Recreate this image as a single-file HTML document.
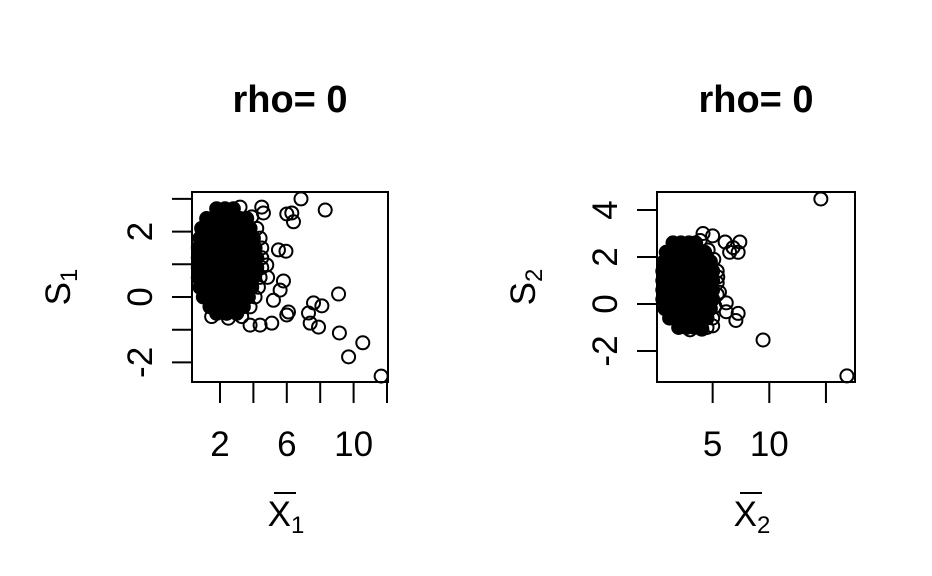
<!DOCTYPE html>
<html><head><meta charset="utf-8"><style>
html,body{margin:0;padding:0;background:#fff}
svg{display:block;font-family:"Liberation Sans",Arial,sans-serif}
</style></head><body>
<svg id="c" width="932" height="576" viewBox="0 0 932 576"></svg>
<script>
// ---- Panel 1 data ----
const p1RowY = [2.7,2.4,2.1,1.8,1.5,1.2,0.9,0.6,0.3,0.0,-0.3,-0.5];
const p1RowX = [
 [1.8,2.3,2.8],
 [1.2,1.7,2.2,2.7,3.2,3.6],
 [0.9,1.3,1.8,2.3,2.8,3.3,3.8],
 [0.8,1.1,1.6,2.1,2.6,3.1,3.6,4.0],
 [0.7,1.0,1.5,2.0,2.5,3.0,3.5,4.1],
 [0.7,0.9,1.4,1.9,2.4,2.9,3.4,3.8,4.2],
 [0.7,0.9,1.4,1.9,2.4,2.9,3.4,3.8,4.2],
 [0.7,1.0,1.5,2.0,2.5,3.0,3.5,4.0],
 [0.8,1.1,1.6,2.1,2.6,3.1,3.5,3.9],
 [1.0,1.4,1.9,2.4,2.9,3.3,3.7],
 [1.4,1.9,2.4,2.9,3.4],
 [1.8,2.4,3.0]
];
const p1OutX = [6.85,8.3,6.0,6.3,6.4,4.6,4.5,5.5,5.95,4.8,5.8,5.6,9.1,7.6,8.1,7.3,7.4,7.9,6.0,6.1,5.1,4.4,3.8,9.15,9.7,10.55,11.65,5.2,4.85,
 3.2,3.9,4.2,4.4,4.5,4.5,4.5,4.4,4.3,4.1,3.8,3.3,2.5,1.5];
const p1OutY = [3.0,2.66,2.54,2.57,2.3,2.57,2.75,1.44,1.4,0.98,0.49,0.21,0.09,-0.18,-0.27,-0.49,-0.8,-0.92,-0.55,-0.46,-0.8,-0.86,-0.86,-1.1,-1.83,-1.4,-2.42,-0.1,0.6,
 2.75,2.45,2.1,1.8,1.5,1.2,0.9,0.6,0.3,0.0,-0.3,-0.6,-0.65,-0.6];
const p1XTicks = [2,4,6,8,10,12];
const p1XLabels = [2,6,10];
const p1YTicks = [-2,-1,0,1,2,3];
const p1YLabels = [-2,0,2];
// ---- Panel 2 data ----
const p2RowY = [2.6,2.2,1.8,1.4,1.0,0.6,0.2,-0.2,-0.6,-1.0];
const p2RowX = [
 [1.5,2.2,2.9,3.5],
 [0.9,1.5,2.2,2.9,3.6,4.3],
 [0.7,1.2,1.9,2.6,3.3,4.0,4.8],
 [0.6,1.0,1.7,2.4,3.1,3.8,4.5,5.0],
 [0.6,0.9,1.6,2.3,3.0,3.7,4.4,5.0],
 [0.6,0.9,1.6,2.3,3.0,3.7,4.4,5.0],
 [0.6,1.0,1.7,2.4,3.1,3.8,4.5,5.0],
 [0.8,1.2,1.9,2.6,3.3,4.0,4.8],
 [1.2,1.9,2.6,3.3,4.0,4.5],
 [2.0,2.7,3.4,4.0]
];
const p2OutX = [14.55,16.85,9.45,7.4,7.25,6.5,6.8,6.1,5.0,4.15,5.45,5.6,6.2,6.2,7.25,7.05,5.0,4.05,2.4,
 3.9,4.6,5.1,5.4,5.4,5.4,5.2,5.0,4.5,3.0];
const p2OutY = [4.47,-3.06,-1.53,2.64,2.2,2.2,2.4,2.64,2.9,3.0,1.15,0.5,0.05,-0.33,-0.4,-0.7,-0.93,-1.07,-0.93,
 2.7,2.3,1.9,1.4,0.9,0.4,-0.1,-0.6,-1.0,-1.1];
const p2XTicks = [5,10,15];
const p2XLabels = [5,10];
const p2YTicks = [-2,0,2,4];
const p2YLabels = [-2,0,2,4];

const NS="http://www.w3.org/2000/svg";
const svg=document.getElementById('c');
function mk(tag,attrs,parent){const e=document.createElementNS(NS,tag);for(const k in attrs)e.setAttribute(k,attrs[k]);(parent||svg).appendChild(e);return e;}

function panel(cfg){
  const g=mk('g',{});
  
  
  const sx=v=>cfg.x0+v*cfg.kx, sy=v=>cfg.y0-v*cfg.ky;
  const box=mk('rect',{x:cfg.L,y:192,width:cfg.R-cfg.L,height:190,fill:'none',stroke:'#000','stroke-width':2},g);
  
  
  const pts=mk('g',{fill:'none',stroke:'#000','stroke-width':2},g);
  
  
  cfg.rowY.forEach((y,i)=>cfg.rowX[i].forEach(x=>{
    const c=mk('circle',{cx:sx(x),cy:sy(y),r:6.5,fill:'#000'},pts);
    
    
  }));
  cfg.outX.forEach((x,i)=>{
    const c=mk('circle',{cx:sx(x),cy:sy(cfg.outY[i]),r:6.5},pts);
    
    
  });
  cfg.xt.forEach(v=>{
    const t=mk('line',{x1:sx(v),x2:sx(v),y1:382,y2:403,stroke:'#000','stroke-width':2},g);
    
    
  });
  cfg.xl.forEach(v=>{
    const t=mk('text',{x:sx(v),y:456,'font-size':35,'text-anchor':'middle'},g);
    t.textContent=v;
    
    
  });
  cfg.yt.forEach(v=>{
    const t=mk('line',{x1:cfg.L-20,x2:cfg.L,y1:sy(v),y2:sy(v),stroke:'#000','stroke-width':2},g);
    
    
  });
  cfg.yl.forEach(v=>{
    const x=cfg.L-52, y=sy(v);
    const t=mk('text',{x:x,y:y,'font-size':35,'text-anchor':'middle',transform:`rotate(-90 ${x} ${y})`,dy:12},g);
    t.textContent=v;
    
    
  });
  const cx=(cfg.L+cfg.R)/2;
  const ti=mk('text',{x:cx,y:112,'font-size':38,'font-weight':'bold','text-anchor':'middle'},g);
  ti.textContent='rho= 0';
  
  
  const xl=mk('text',{x:cx-4,y:526,'font-size':35,'text-anchor':'middle'},g);
  
  
  xl.innerHTML='X<tspan font-size="24" dy="7">'+cfg.idx+'</tspan>';
  const bar=mk('line',{x1:cx-16,x2:cx+6,y1:493,y2:493,stroke:'#000','stroke-width':2},g);
  
  
  const yx=cfg.L-134, yy=287;
  const yl=mk('text',{x:yx,y:yy,'font-size':35,'text-anchor':'middle',transform:`rotate(-90 ${yx} ${yy})`,dy:12},g);
  
  
  yl.innerHTML='S<tspan font-size="24" dy="7">'+cfg.idx+'</tspan>';
}
panel({name:'panel-1',idx:1,L:192,R:388,x0:186.6,kx:16.7,y0:297,ky:32.7,rowY:p1RowY,rowX:p1RowX,outX:p1OutX,outY:p1OutY,xt:p1XTicks,xl:p1XLabels,yt:p1YTicks,yl:p1YLabels});
panel({name:'panel-2',idx:2,L:657,R:855,x0:656,kx:11.33,y0:304,ky:23.5,rowY:p2RowY,rowX:p2RowX,outX:p2OutX,outY:p2OutY,xt:p2XTicks,xl:p2XLabels,yt:p2YTicks,yl:p2YLabels});
</script>
</body></html>
